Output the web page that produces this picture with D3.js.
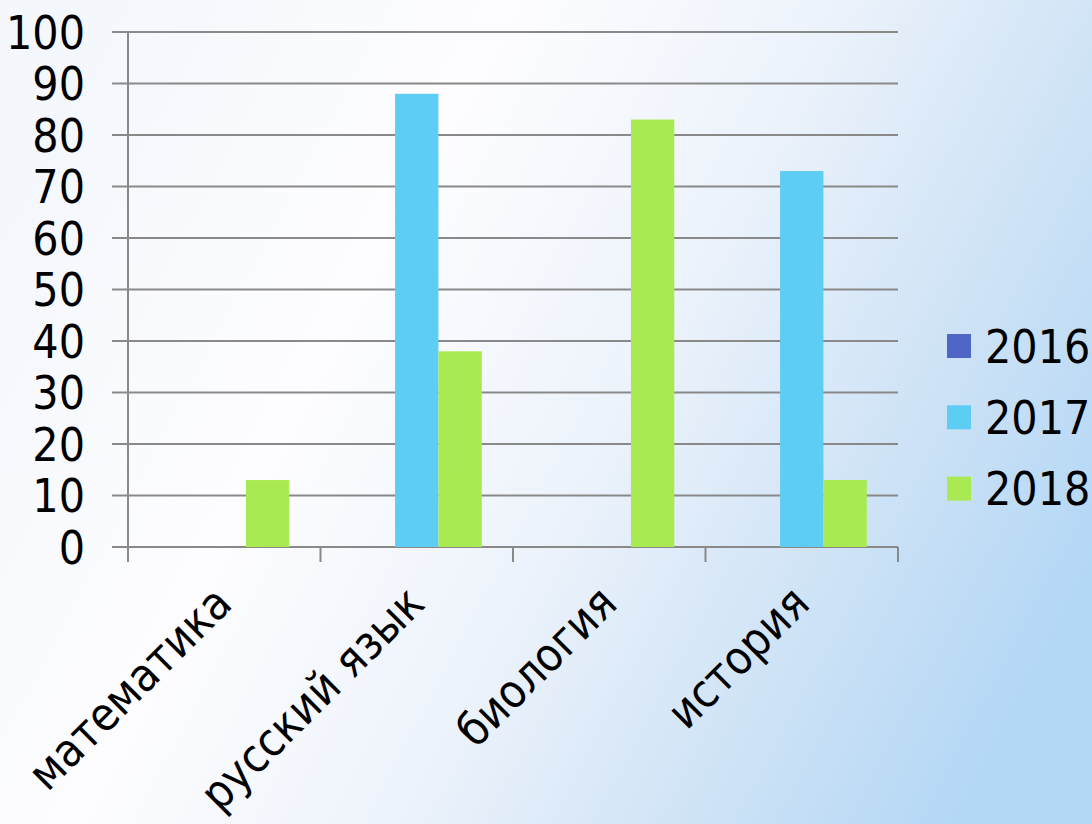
<!DOCTYPE html>
<html>
<head>
<meta charset="utf-8">
<script src="https://cdn.jsdelivr.net/npm/d3@7"></script>
<style>
  html, body { margin: 0; padding: 0; }
  body { width: 1092px; height: 824px; overflow: hidden; }
  text { font-family: "DejaVu Sans Condensed", "DejaVu Sans", sans-serif; font-stretch: condensed; fill: #000; }
</style>
</head>
<body>
<svg id="chart" width="1092" height="824"></svg>
<script>
const categories = ["математика", "русский язык", "биология", "история"];
const years = ["2016", "2017", "2018"];
const values2016 = [0, 0, 0, 0];
const values2017 = [0, 88, 0, 73];
const values2018 = [13, 38, 83, 13];
const yTicks = [0, 10, 20, 30, 40, 50, 60, 70, 80, 90, 100];
const colors = ["#4f66c8", "#5ecdf3", "#a9ea52"];

const seriesValues = [values2016, values2017, values2018];

const svg = d3.select("#chart");
const W = 1092, H = 824;

// background
const defs = svg.append("defs");
const lg = defs.append("linearGradient").attr("id", "bg")
  .attr("x1", "0").attr("y1", "0.3").attr("x2", "1").attr("y2", "0.7");
lg.append("stop").attr("offset", "0").attr("stop-color", "#f4f7fc");
lg.append("stop").attr("offset", "0.3").attr("stop-color", "#fdfdff");
lg.append("stop").attr("offset", "0.55").attr("stop-color", "#edf3fb");
lg.append("stop").attr("offset", "0.8").attr("stop-color", "#cde2f6");
lg.append("stop").attr("offset", "1").attr("stop-color", "#b3d7f5");
svg.append("rect").attr("width", W).attr("height", H).attr("fill", "url(#bg)");

const mLeft = 128, mRight = 898, mTop = 32, mBottom = 547;
const x = d3.scaleBand().domain(categories).range([mLeft, mRight]).paddingInner(0).paddingOuter(0);
const x1 = d3.scaleBand().domain(years).range([0, x.bandwidth()]).paddingInner(0).paddingOuter(0.72);
const y = d3.scaleLinear().domain([0, 100]).range([mBottom, mTop]);

const gridColor = "#898989";

// gridlines
svg.append("g").selectAll("line").data(yTicks).join("line")
  .attr("x1", mLeft - 16).attr("x2", mRight)
  .attr("y1", d => y(d)).attr("y2", d => y(d))
  .attr("stroke", gridColor).attr("stroke-width", 2);

// y axis line
svg.append("line").attr("x1", mLeft).attr("x2", mLeft)
  .attr("y1", mTop).attr("y2", mBottom + 15)
  .attr("stroke", gridColor).attr("stroke-width", 2);

// category ticks
const bounds = categories.map(c => x(c)).concat([mRight]);
svg.append("g").selectAll("line").data(bounds.slice(1)).join("line")
  .attr("x1", d => d).attr("x2", d => d)
  .attr("y1", mBottom).attr("y2", mBottom + 15)
  .attr("stroke", gridColor).attr("stroke-width", 2);

// bars
const gBars = svg.append("g");
years.forEach((yr, si) => {
  gBars.append("g").selectAll("rect").data(categories.map((c, i) => ({c, v: seriesValues[si][i]})))
    .join("rect")
    .attr("x", d => x(d.c) + x1(yr))
    .attr("width", x1.bandwidth())
    .attr("y", d => y(d.v))
    .attr("height", d => y(0) - y(d.v))
    .attr("fill", colors[si]);
});

// y tick labels
svg.append("g").selectAll("text").data(yTicks).join("text")
  .attr("x", 85).attr("y", d => y(d))
  .attr("dy", "0.36em")
  .attr("text-anchor", "end")
  .attr("font-size", 46)
  .text(d => d);

// category labels
svg.append("g").selectAll("text").data(categories).join("text")
  .attr("transform", d => `translate(${x(d) + x.bandwidth() / 2 + 10},${606}) rotate(-45)`)
  .attr("text-anchor", "end")
  .attr("font-size", 46)
  .text(d => d);

// legend
const lgd = svg.append("g");
years.forEach((yr, i) => {
  const cy = 346 + i * 71.3;
  lgd.append("rect").attr("x", 947).attr("y", cy - 12).attr("width", 24).attr("height", 24).attr("fill", colors[i]);
  lgd.append("text").attr("x", 985).attr("y", cy).attr("dy", "0.36em").attr("font-size", 46).text(yr);
});
</script>
</body>
</html>
